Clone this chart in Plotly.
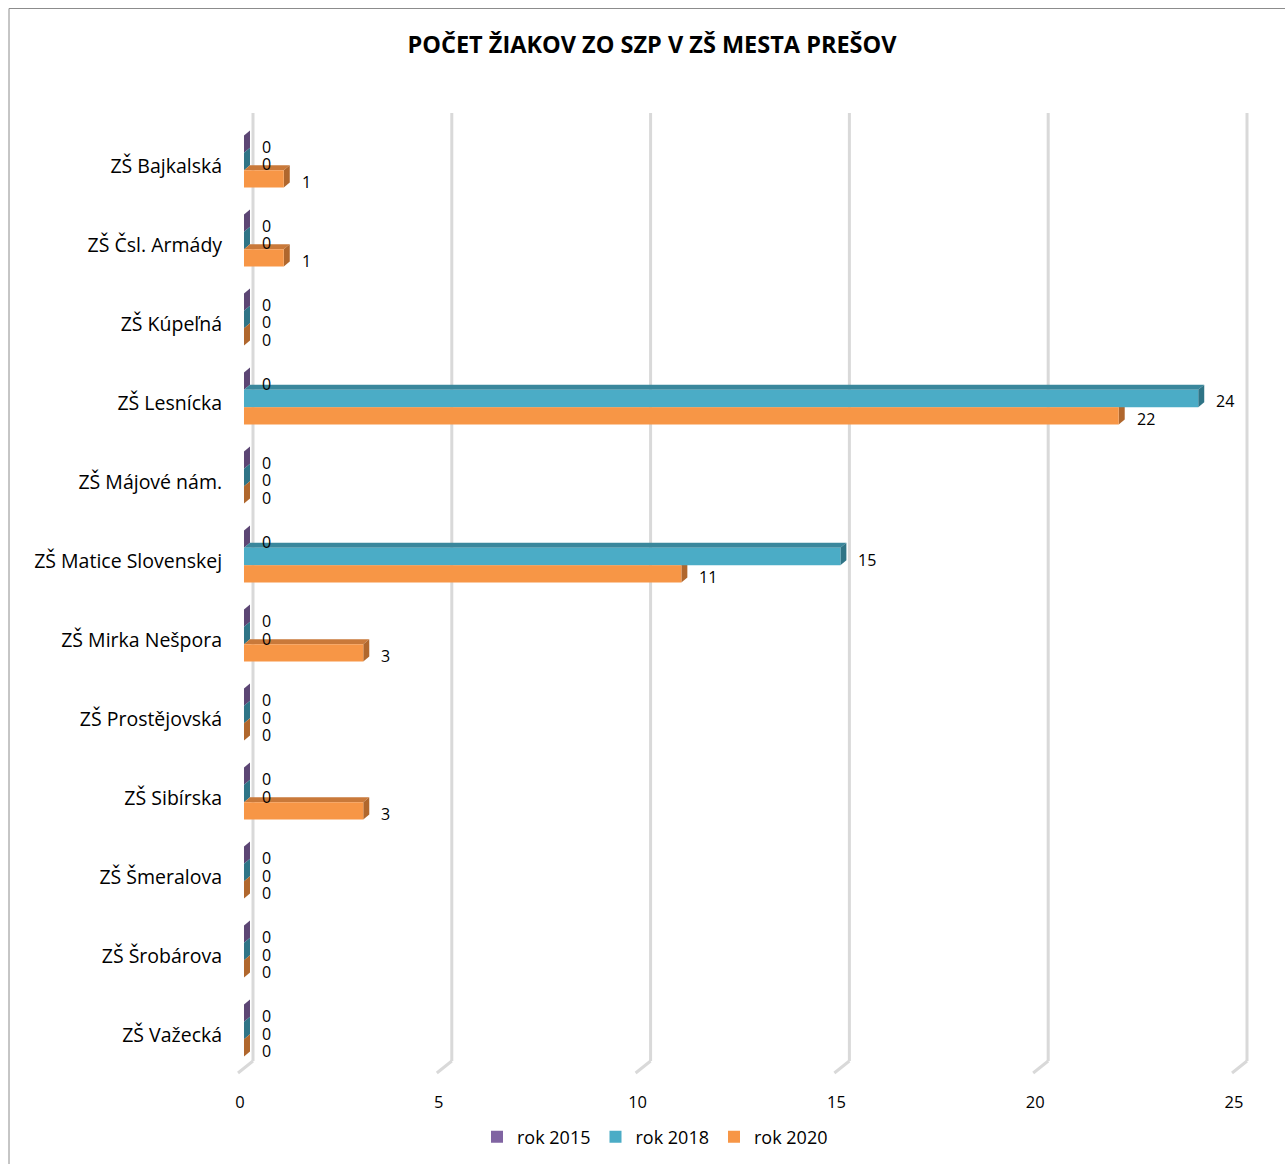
import plotly.graph_objects as go

# ---------------- data ----------------
categories = [
    "ZŠ Bajkalská", "ZŠ Čsl. Armády", "ZŠ Kúpeľná", "ZŠ Lesnícka",
    "ZŠ Májové nám.", "ZŠ Matice Slovenskej", "ZŠ Mirka Nešpora",
    "ZŠ Prostějovská", "ZŠ Sibírska", "ZŠ Šmeralova", "ZŠ Šrobárova",
    "ZŠ Važecká",
]
rok_2015 = [0, 0, 0, 0, 0, 0, 0, 0, 0, 0, 0, 0]
rok_2018 = [0, 0, 0, 24, 0, 15, 0, 0, 0, 0, 0, 0]
rok_2020 = [1, 1, 0, 22, 0, 11, 3, 0, 3, 0, 0, 0]
series_names = ["rok 2015", "rok 2018", "rok 2020"]
x_ticks = [0, 5, 10, 15, 20, 25]
title_text = "POČET ŽIAKOV ZO SZP V ZŠ MESTA PREŠOV"

# ---------------- styling ----------------
W, H = 1285, 1164
FONT = "Open Sans"
front_colors = ["#8064A2", "#4BACC6", "#F79646"]
top_colors = ["#6A5187", "#3A879C", "#C9793A"]
side_colors = ["#5C4674", "#2F7486", "#B0672D"]

px_x0, px_x25 = 244, 1238           # pixel position of values 0 and 25
ppu = (px_x25 - px_x0) / 25         # pixels per unit (x)
x_lo, x_hi = -0.4, 25.5             # a little room for the 3D back wall
px_ytop, px_ybot = 122, 1070        # pixel span of the category axis
ux = 1 / ppu
uy = len(categories) / (px_ybot - px_ytop)
depth_dx = 6 * ux
depth_dy = 5 * uy
bar_w = 17.3 * uy

positions = list(range(len(categories)))
series = [rok_2015, rok_2018, rok_2020]

fig = go.Figure()
for k, (name, vals) in enumerate(zip(series_names, series)):
    fig.add_trace(go.Bar(
        y=positions, x=vals, orientation="h", name=name,
        marker=dict(color=front_colors[k], line=dict(width=0)),
        hoverinfo="x+name",
    ))

shapes = []
# outer frame
shapes.append(dict(type="rect", xref="paper", yref="paper",
                   x0=9 / W, x1=1.02, y0=-0.05, y1=1 - 8.5 / H,
                   line=dict(color="#8C8C8C", width=1), fillcolor="rgba(0,0,0,0)",
                   layer="below"))
# back-wall gridlines with 3D floor bend
for t in x_ticks:
    shapes.append(dict(type="line", xref="x", xsizemode="pixel", xanchor=t,
                       x0=9, x1=9, yref="paper",
                       y0=1 - 1061 / H, y1=1 - 113 / H,
                       line=dict(color="#D9D9D9", width=3), layer="below"))
    shapes.append(dict(type="line", xref="x", xsizemode="pixel", xanchor=t,
                       x0=9, x1=-6, yref="paper",
                       y0=1 - 1061 / H, y1=1 - 1073 / H,
                       line=dict(color="#D9D9D9", width=3), layer="below"))

annotations = []
for k, vals in enumerate(series):
    for i, v in zip(positions, vals):
        c = i + (k - 1) * bar_w
        yt = c - bar_w / 2
        yb = c + bar_w / 2
        if v > 0:
            shapes.append(dict(
                type="path", xref="x", yref="y", layer="below",
                path=f"M 0,{yt} L {v},{yt} L {v + depth_dx},{yt - depth_dy} "
                     f"L {depth_dx},{yt - depth_dy} Z",
                fillcolor=top_colors[k], line=dict(width=0)))
        shapes.append(dict(
            type="path", xref="x", yref="y", layer="below",
            path=f"M {v},{yt} L {v},{yb} L {v + depth_dx},{yb - depth_dy} "
                 f"L {v + depth_dx},{yt - depth_dy} Z",
            fillcolor=side_colors[k], line=dict(width=0)))
        annotations.append(dict(
            x=v, y=c, xref="x", yref="y", text=str(v), showarrow=False,
            xanchor="left", yanchor="middle", xshift=16, yshift=-3,
            font=dict(family=FONT, size=16, color="#000000")))

fig.update_layout(
    width=W, height=H,
    margin=dict(l=0, r=0, t=0, b=0, autoexpand=False),
    paper_bgcolor="white", plot_bgcolor="rgba(0,0,0,0)",
    barmode="group", bargap=1 - 3 * bar_w, bargroupgap=0,
    font=dict(family=FONT, color="#000000"),
    title=dict(text=f"<b>{title_text}</b>", x=652 / W, xanchor="center",
               y=1 - 45 / H, yanchor="middle", xref="paper", yref="paper",
               font=dict(family=FONT, size=23.5, color="#000000")),
    xaxis=dict(domain=[(px_x0 + x_lo * ppu) / W, (px_x0 + x_hi * ppu) / W],
               range=[x_lo, x_hi], automargin=False,
               tickvals=x_ticks, showgrid=False, zeroline=False,
               showline=False, ticks="", ticklabelstandoff=20,
               ticklabelshift=-4,
               tickfont=dict(family=FONT, size=16.5, color="#000000")),
    yaxis=dict(domain=[1 - px_ybot / H, 1 - px_ytop / H],
               range=[len(categories) - 0.5, -0.5], automargin=False,
               tickvals=positions, ticktext=categories,
               showgrid=False, zeroline=False, showline=False, ticks="",
               ticklabelstandoff=5, ticklabelshift=-5,
               tickfont=dict(family=FONT, size=19.5, color="#000000")),
    legend=dict(orientation="h", x=655 / W, xanchor="center",
                y=1 - 1137 / H, yanchor="middle",
                font=dict(family=FONT, size=18, color="#000000"),
                itemwidth=30, tracegroupgap=0),
    shapes=shapes, annotations=annotations,
)

fig.write_html("out.html")
